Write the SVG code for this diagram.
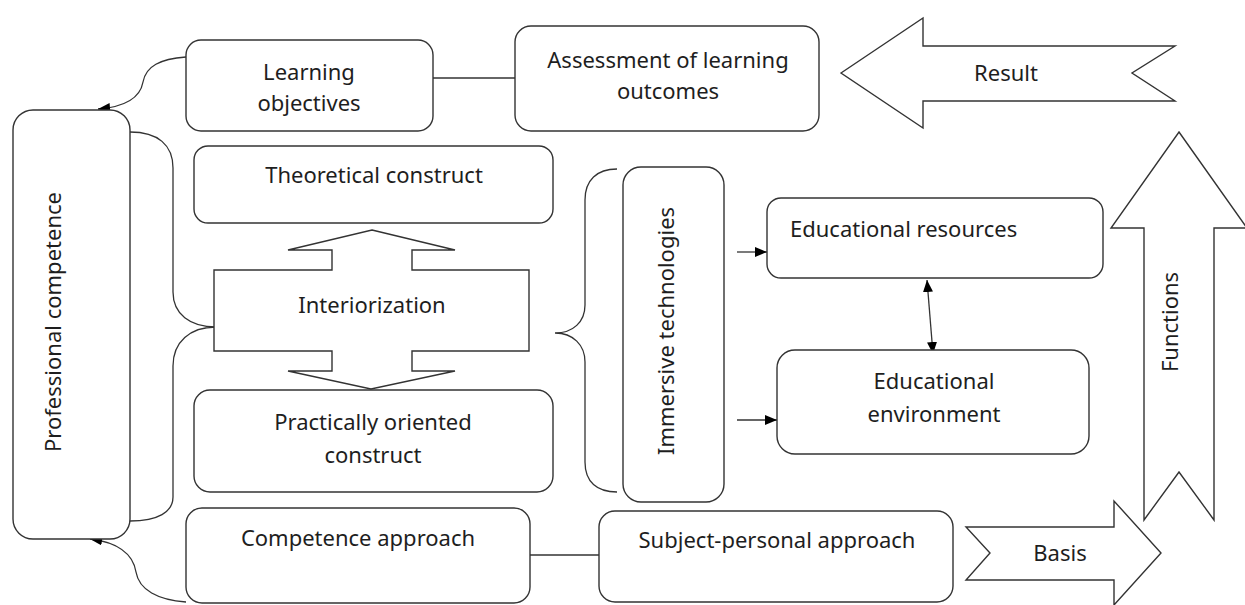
<svg xmlns="http://www.w3.org/2000/svg" width="1245" height="605" viewBox="0 0 1245 605">
<defs>
<style>
.box{fill:#fff;stroke:#333;stroke-width:1.4}
.shape{fill:#fff;stroke:#333;stroke-width:1.4;stroke-linejoin:miter}
.ln{fill:none;stroke:#333;stroke-width:1.3}
.t{font-family:"Noto Sans","Open Sans",sans-serif;font-size:22px;fill:#1e1e1e;text-anchor:middle}
</style>
<marker id="ah" viewBox="0 0 12 10" refX="12" refY="5" markerWidth="12" markerHeight="10" markerUnits="userSpaceOnUse" orient="auto-start-reverse">
<path d="M0,0 L12,5 L0,10 z" fill="#000"/>
</marker>
</defs>
<rect width="1245" height="605" fill="#fff"/>

<g id="connectors">
<path class="ln" d="M186,57 C160,59 146,66 143,82 C140,99 124,107 98,109" marker-end="url(#ah)"/>
<path class="ln" d="M186,602 C158,600 139,590 136,572 C133,553 116,542 90,539" marker-end="url(#ah)"/>
<path class="ln" d="M433,78 H515"/>
<path class="ln" d="M530,555 H599"/>
<path class="ln" d="M737,252 H767" marker-end="url(#ah)"/>
<path class="ln" d="M737,420 H777" marker-end="url(#ah)"/>
<path class="ln" d="M927,280 L933,354" marker-start="url(#ah)" marker-end="url(#ah)"/>
<path class="ln" d="M130,132 C158,132 173,145 173,168 V292 C173,314 190,327 216,327 C190,327 173,342 173,366 V497 C173,512 158,521 130,521"/>
<path class="ln" d="M617,169 C597,169 585,180 585,200 V305 C585,322 573,333 555,333 C573,333 585,345 585,362 V462 C585,482 597,492 617,492"/>
</g>

<g id="professional-competence">
<rect class="box" x="13" y="110" width="117" height="429" rx="20"/>
<text class="t" transform="translate(53,322) rotate(-90)" y="7.7">Professional competence</text>
</g>

<g id="learning-objectives">
<rect class="box" x="186" y="40" width="247" height="91" rx="15"/>
<text class="t" x="309" y="80">Learning</text>
<text class="t" x="309" y="111">objectives</text>
</g>

<g id="assessment">
<rect class="box" x="515" y="26" width="304" height="105" rx="16"/>
<text class="t" x="668" y="68">Assessment of learning</text>
<text class="t" x="668" y="99">outcomes</text>
</g>

<g id="result">
<polygon class="shape" points="841,73 923,18 923,46 1175,46 1132,73 1175,101 923,101 923,128"/>
<text class="t" x="1006" y="81">Result</text>
</g>

<g id="theoretical-construct">
<rect class="box" x="194" y="146" width="359" height="77" rx="14"/>
<text class="t" x="374" y="183">Theoretical construct</text>
</g>

<g id="interiorization">
<polygon class="shape" points="372,230 455,250 412,250 412,270 529,270 529,351 412,351 412,371 455,371 371,389 288,371 332,371 332,351 214,351 214,270 332,270 332,250 288,250"/>
<text class="t" x="372" y="313">Interiorization</text>
</g>

<g id="practically-oriented-construct">
<rect class="box" x="194" y="390" width="359" height="102" rx="16"/>
<text class="t" x="373" y="430">Practically oriented</text>
<text class="t" x="373" y="463">construct</text>
</g>

<g id="immersive-technologies">
<rect class="box" x="623" y="167" width="101" height="335" rx="18"/>
<text class="t" transform="translate(666,331) rotate(-90)" y="7.7">Immersive technologies</text>
</g>

<g id="educational-resources">
<rect class="box" x="767" y="198" width="336" height="80" rx="14"/>
<text class="t" x="790" y="237" style="text-anchor:start">Educational resources</text>
</g>

<g id="educational-environment">
<rect class="box" x="777" y="350" width="312" height="104" rx="18"/>
<text class="t" x="934" y="389">Educational</text>
<text class="t" x="934" y="422">environment</text>
</g>

<g id="functions">
<polygon class="shape" points="1179,132 1247,228 1214,228 1214,520 1179,472 1144,520 1144,228 1111,228"/>
<text class="t" transform="translate(1170,322) rotate(-90)" y="7.7">Functions</text>
</g>

<g id="competence-approach">
<rect class="box" x="186" y="508" width="344" height="95" rx="16"/>
<text class="t" x="358" y="546">Competence approach</text>
</g>

<g id="subject-personal-approach">
<rect class="box" x="599" y="511" width="354" height="91" rx="16"/>
<text class="t" x="777" y="548">Subject-personal approach</text>
</g>

<g id="basis">
<polygon class="shape" points="966,527 1114,527 1114,501 1161,553 1114,605 1114,580 966,580 990,553"/>
<text class="t" x="1060" y="561">Basis</text>
</g>
</svg>
